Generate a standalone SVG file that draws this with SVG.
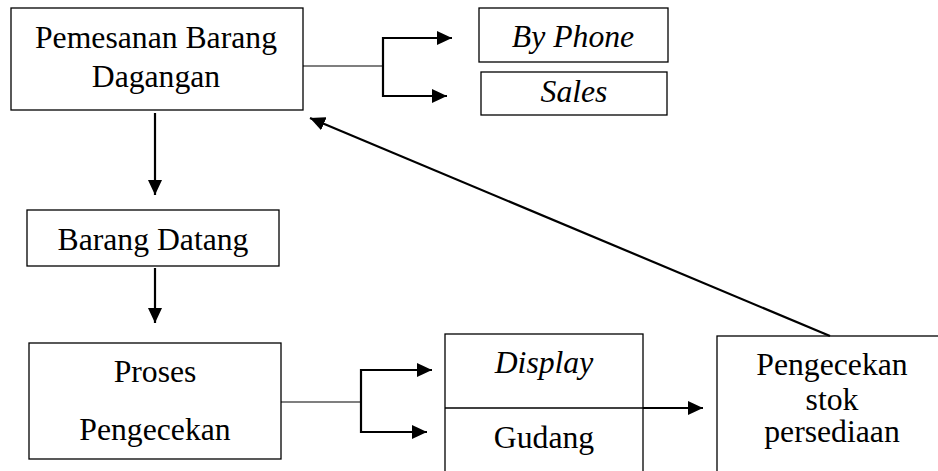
<svg xmlns="http://www.w3.org/2000/svg" width="938" height="471" viewBox="0 0 938 471">
  <style>
    .box { fill: #fff; stroke: #000; stroke-width: 1.3; }
    text { font-family: 'Liberation Serif', 'Times New Roman', Times, serif; font-size: 31.7px; fill: #000; text-anchor: middle; }
    .it { font-style: italic; }
    .thin { fill: none; stroke: #000; stroke-width: 1.2; }
    .arr { fill: none; stroke: #000; stroke-width: 2.2; }
  </style>
  <defs>
    <marker id="ah" viewBox="0 0 15 14" refX="15" refY="7" markerWidth="15" markerHeight="14" markerUnits="userSpaceOnUse" orient="auto">
      <path d="M0,0 L15,7 L0,14 z" fill="#000"/>
    </marker>
  </defs>
  <rect width="938" height="471" fill="#fff"/>

  <g id="pemesanan">
    <rect class="box" x="11" y="8" width="292" height="102"/>
    <text x="156" y="48" font-family="Liberation Serif">Pemesanan Barang</text>
    <text x="156" y="87" font-family="Liberation Serif">Dagangan</text>
  </g>
  <g id="by-phone">
    <rect class="box" x="479" y="8" width="189" height="54"/>
    <text class="it" x="573" y="47" font-family="Liberation Serif">By Phone</text>
  </g>
  <g id="sales">
    <rect class="box" x="481" y="72" width="186" height="43"/>
    <text class="it" x="574" y="102" font-family="Liberation Serif">Sales</text>
  </g>
  <g id="barang-datang">
    <rect class="box" x="27" y="210" width="252" height="56"/>
    <text x="153" y="250" font-family="Liberation Serif">Barang Datang</text>
  </g>
  <g id="proses">
    <rect class="box" x="29" y="343" width="252" height="116"/>
    <text x="155" y="382" font-family="Liberation Serif">Proses</text>
    <text x="155" y="440" font-family="Liberation Serif">Pengecekan</text>
  </g>
  <g id="display-gudang">
    <rect class="box" x="445" y="334" width="198" height="150"/>
    <line x1="445" y1="408" x2="643" y2="408" stroke="#000" stroke-width="1.5"/>
    <text class="it" x="544" y="373" font-family="Liberation Serif">Display</text>
    <text x="544" y="448" font-family="Liberation Serif">Gudang</text>
  </g>
  <g id="stok">
    <rect class="box" x="717" y="336" width="240" height="150"/>
    <text x="832" y="375" font-family="Liberation Serif">Pengecekan</text>
    <text x="832" y="410" font-family="Liberation Serif">stok</text>
    <text x="832" y="442" font-family="Liberation Serif">persediaan</text>
  </g>

  <g id="connectors">
    <!-- order split to By Phone / Sales -->
    <line class="thin" x1="303" y1="66" x2="383" y2="66"/>
    <line class="arr" x1="383" y1="37" x2="383" y2="97"/>
    <line class="arr" x1="382" y1="38" x2="452" y2="38" marker-end="url(#ah)"/>
    <line class="arr" x1="382" y1="96" x2="447" y2="96" marker-end="url(#ah)"/>
    <!-- vertical flow -->
    <line class="arr" x1="155" y1="113" x2="155" y2="195" marker-end="url(#ah)"/>
    <line class="arr" x1="155" y1="268" x2="155" y2="323" marker-end="url(#ah)"/>
    <!-- check split to Display / Gudang -->
    <line class="thin" x1="281" y1="402" x2="361" y2="402"/>
    <line class="arr" x1="361" y1="369" x2="361" y2="433"/>
    <line class="arr" x1="360" y1="370" x2="432" y2="370" marker-end="url(#ah)"/>
    <line class="arr" x1="360" y1="432" x2="427" y2="432" marker-end="url(#ah)"/>
    <!-- to stock check -->
    <line class="arr" x1="643" y1="408" x2="703" y2="408" marker-end="url(#ah)"/>
    <!-- back to ordering -->
    <line class="arr" x1="830" y1="336" x2="310" y2="118" marker-end="url(#ah)"/>
  </g>
</svg>
